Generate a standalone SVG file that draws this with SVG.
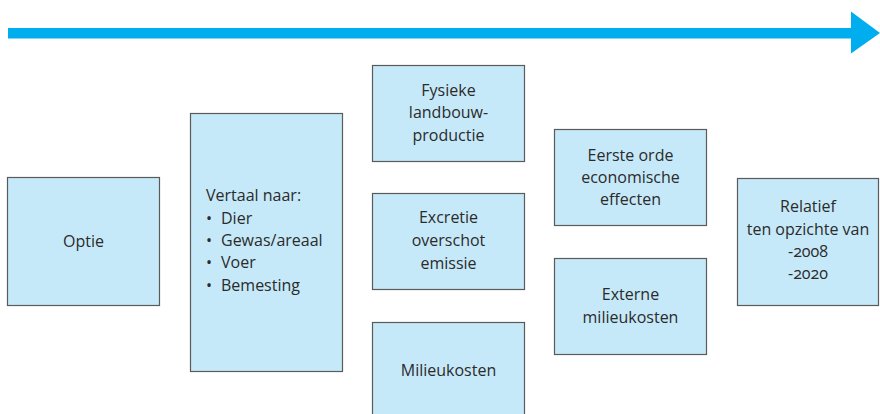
<svg xmlns="http://www.w3.org/2000/svg" width="880" height="414" viewBox="0 0 880 414">
<style>
.box{fill:#c6e9f9;stroke:#5a5a5a;stroke-width:1.2}
text{font-family:"Open Sans","Noto Sans","DejaVu Sans",sans-serif;font-size:16px;fill:#2b2b2b;font-variant-numeric:oldstyle-nums;font-feature-settings:"onum" 1}
.c{text-anchor:middle}
</style>
<g id="connectors">
<rect x="8" y="28" width="846" height="10.5" fill="#00aeef"/>
<polygon points="851,11.5 880,33 851,53.5" fill="#00aeef"/>
</g>
<g id="optie">
<rect class="box" x="7.5" y="177.5" width="152" height="128"/>
<text class="c" x="83.5" y="247">Optie</text>
</g>
<g id="vertaal">
<rect class="box" x="190.5" y="113.5" width="152" height="258"/>
<text x="206" y="201">Vertaal naar:</text>
<text x="206" y="224">•</text><text x="221" y="224">Dier</text>
<text x="206" y="246">•</text><text x="221" y="246">Gewas/areaal</text>
<text x="206" y="268">•</text><text x="221" y="268">Voer</text>
<text x="206" y="291">•</text><text x="221" y="291">Bemesting</text>
</g>
<g id="fysieke">
<rect class="box" x="372.5" y="65.5" width="152" height="96"/>
<text class="c" x="448.5" y="96">Fysieke</text>
<text class="c" x="448.5" y="118">landbouw-</text>
<text class="c" x="448.5" y="141">productie</text>
</g>
<g id="excretie">
<rect class="box" x="372.5" y="193.5" width="152" height="96"/>
<text class="c" x="448.5" y="223">Excretie</text>
<text class="c" x="448.5" y="246">overschot</text>
<text class="c" x="448.5" y="269">emissie</text>
</g>
<g id="milieukosten">
<rect class="box" x="372.5" y="322.5" width="152" height="96"/>
<text class="c" x="448.5" y="376">Milieukosten</text>
</g>
<g id="eerste">
<rect class="box" x="554.5" y="129.5" width="152" height="96"/>
<text class="c" x="630.5" y="161">Eerste orde</text>
<text class="c" x="630.5" y="183">economische</text>
<text class="c" x="630.5" y="205">effecten</text>
</g>
<g id="externe">
<rect class="box" x="554.5" y="258.5" width="152" height="96"/>
<text class="c" x="630.5" y="300">Externe</text>
<text class="c" x="630.5" y="323">milieukosten</text>
</g>
<g id="relatief">
<rect class="box" x="737.5" y="178.5" width="141" height="127"/>
<text class="c" x="808" y="212">Relatief</text>
<text class="c" x="808" y="235">ten opzichte van</text>
<text class="c" x="808" y="257">-2008</text>
<text class="c" x="808" y="279">-2020</text>
</g>
</svg>
